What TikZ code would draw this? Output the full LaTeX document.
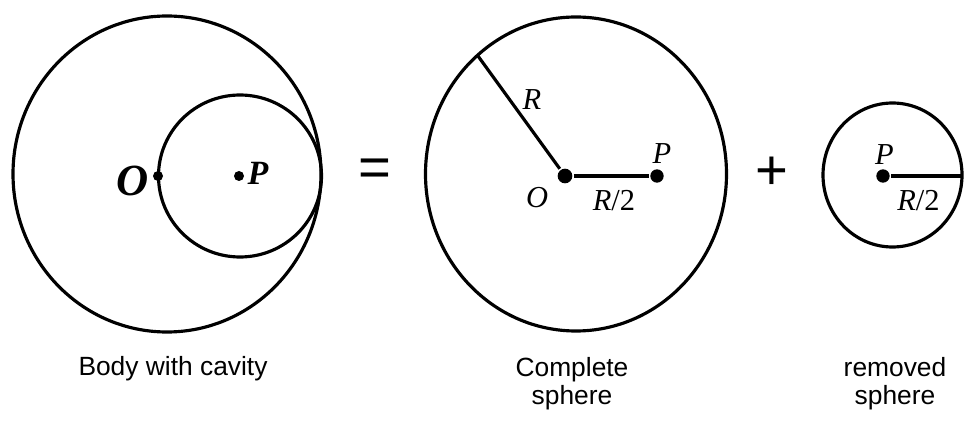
\documentclass[tikz,border=0pt]{standalone}
\usepackage{fontspec}
\setmainfont{Liberation Serif}
\setsansfont{Liberation Sans}
\begin{document}
\begin{tikzpicture}[x=0.03cm,y=-0.03cm,line width=2.7pt,
    dot/.style={circle,fill,inner sep=0pt,minimum size=#1},
    lbl/.style={font=\fontsize{26}{26}\selectfont\itshape,inner sep=0pt},
    caption/.style={font=\sffamily\fontsize{22.5}{23.8}\selectfont,align=center,inner sep=0pt},
    sign/.style={font=\sffamily\fontsize{48}{48}\selectfont,inner sep=0pt}]
  \useasboundingbox (0,0) rectangle (978,427);
  % body with cavity
  \draw (167,174) circle [x radius=154,y radius=158];
  \draw (240,176) circle [x radius=81.5,y radius=81];
  \draw
    (158,176) node[dot=0.3cm] (o1){}
    (239,176) node[dot=0.3cm] (p1){}
    (133,181) node[inner sep=0pt,font=\fontsize{38}{38}\selectfont\bfseries\itshape] (o1l){O}
    (258,173) node[inner sep=0pt,font=\fontsize{29}{29}\selectfont\bfseries\itshape] (p1l){P}
    (173,369) node[caption] (t1){Body with cavity};
  \node[sign] (eq) at (375,173) {=};
  % complete sphere
  \draw (576,174) circle [x radius=150.5,y radius=157];
  \draw
    (565,176) node[dot=0.44cm] (o2){}
    (657,176) node[dot=0.4cm] (p2){}
    (478,56) coordinate (r2)
    (532,100) node[lbl] (r2l){R}
    (662,154) node[lbl] (p2l){P}
    (537,198) node[lbl] (o2l){O}
    (614,201) node[lbl] (h2l){R\/\upshape/2}
    (572,384) node[caption] (t2){Complete\\sphere};
  \node[sign] (pl) at (772,173) {+};
  % removed sphere
  \draw (892.5,175) circle [x radius=69.5,y radius=72];
  \draw
    (883,176) node[dot=0.4cm] (p3){}
    (962,176) coordinate (e3)
    (884.5,155) node[lbl] (p3l){P}
    (918.5,201) node[lbl] (h3l){R\/\upshape/2}
    (895,384) node[caption] (t3){removed\\sphere};
  \begin{scope}[-]
    \draw (o2) to (r2);
    \draw (o2) to (p2);
    \draw (p3) to (e3);
  \end{scope}
\end{tikzpicture}
\end{document}
